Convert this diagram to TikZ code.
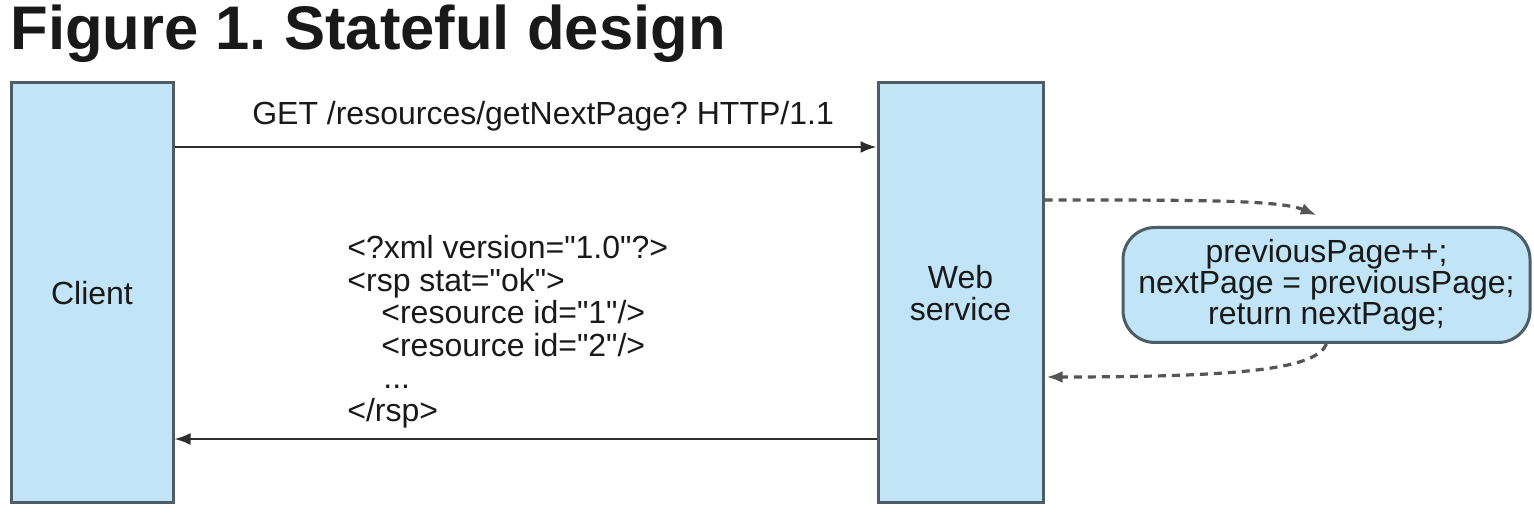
\documentclass[tikz,border=0pt]{standalone}
\usepackage{fontspec}
\setmainfont{Liberation Sans}[Ligatures=TeXOff]
\usepackage{tikz}
\usetikzlibrary{arrows.meta,positioning,calc}
\definecolor{boxfill}{HTML}{C1E5F7}
\definecolor{boxline}{HTML}{4E5C66}
\definecolor{wire}{HTML}{2E2E2E}
\definecolor{dashwire}{HTML}{555555}
\frenchspacing

\begin{document}
\begin{tikzpicture}[x=0.5pt,y=-0.5pt,
	  every node/.style={align=center,text=black!90,inner sep=0pt,font=\fontsize{16}{16.3}\selectfont},
	  tier/.style={draw=boxline,fill=boxfill,line width=1.5pt,minimum height=210pt},
	  code/.style={draw=boxline,fill=boxfill,line width=1.5pt,rounded corners=16pt,minimum width=203.5pt,minimum height=57.5pt,font=\fontsize{16}{14}\selectfont},
	  msg/.style={-{Latex[length=8pt,width=6pt]},draw=wire,line width=1pt},
	  flow/.style={-{Latex[length=8pt,width=6pt]},draw=dashwire,line width=1.6pt,dash pattern=on 4pt off 3pt,shorten >=1pt}]

	  \useasboundingbox (0,0) rectangle (1534,522);

	  \node[anchor=base west,font=\fontsize{30.8}{36}\selectfont\bfseries] (title) at (10,50) {Figure 1. Stateful design};

	  % Position the boxes relative to the client
	  \node[tier,minimum width=81pt] (client) at (92,293) {Client};
	  \node[tier,minimum width=82.5pt,right=351pt of client] (web) {Web\\service};
	  \node[code,right=38.5pt of web,yshift=4pt] (logic) {previousPage++;\\nextPage = previousPage;\\return nextPage;};

	  \coordinate (req) at (0,147);
	  \coordinate (rsp) at (0,439);
	  \coordinate (out) at (0,200);
	  \coordinate (back) at (0,377);

	  \draw[msg] (client.east |- req) -- node[pos=0.525,anchor=base,yshift=11pt] (getlabel) {GET /resources/getNextPage? HTTP/1.1} (web.west |- req);
	  \draw[msg] (web.west |- rsp) -- (client.east |- rsp);
	  \node[anchor=north west,align=left] (payload) at (347,235) {<?xml version="1.0"?>\\<rsp stat="ok">\\\hspace*{17pt}<resource id="1"/>\\\hspace*{17pt}<resource id="2"/>\\\hspace*{18pt}...\\</rsp>};

	  \draw[flow] (web.east |- out) .. controls (1200,200) and (1280,200) .. ([xshift=-4pt,yshift=5pt]logic.north);
	  \draw[flow] (logic.south) .. controls (1316,368) and (1250,377) .. (web.east |- back);
\end{tikzpicture}
\end{document}
